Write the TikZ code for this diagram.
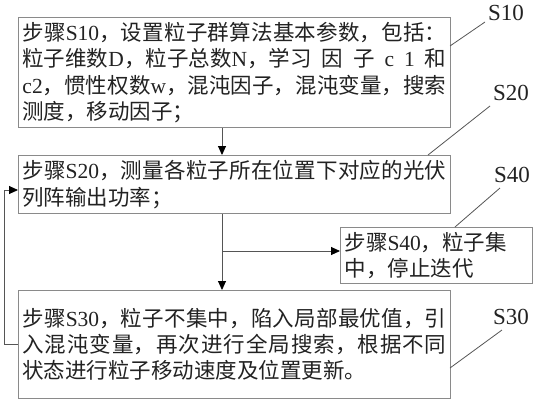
\documentclass[tikz,border=0pt]{standalone}
\usepackage{fontspec}
\setmainfont{Noto Sans CJK SC}
\newfontfamily\lat{Liberation Serif}
\usetikzlibrary{arrows.meta}
\XeTeXlinebreaklocale "zh"
\XeTeXlinebreakskip=0pt plus 3pt
\definecolor{boxgray}{HTML}{8A8A8A}
\definecolor{linegray}{HTML}{555555}
\definecolor{textblack}{HTML}{222222}
\tikzset{
  stepbox/.style={draw=boxgray, line width=1pt, inner xsep=4pt, inner ysep=0pt,
    text width=424pt, align=justify, anchor=north west,
    font=\fontsize{21.5pt}{26.3pt}\selectfont, text=textblack},
  smallbox/.style={stepbox, text width=184pt, align=left},
  arr/.style={draw=linegray, line width=0.9pt, -{Triangle[length=9pt,width=8pt,color=black]}},
  leader/.style={draw=linegray, line width=0.8pt},
  steplabel/.style={font=\lat\fontsize{23pt}{23pt}\selectfont, text=textblack, inner sep=0pt}
}
\begin{document}
\begin{tikzpicture}[x=1pt,y=-1pt]
\useasboundingbox (0,0) rectangle (536,400);
\node[stepbox, minimum height=110pt] (s10) at (18,17)
 {步骤{\lat S10}，设置粒子群算法基本参数，包括：\linebreak
  粒子维数{\lat D}，粒子总数{\lat N}，学习\hfill 因\hfill 子\hfill {\lat c}\hfill {\lat 1}\hfill 和\linebreak
  {\lat c2}，惯性权数{\lat w}，混沌因子，混沌变量，搜索\linebreak
  测度，移动因子；};
\node[stepbox, minimum height=58pt] (s20) at (18,155)
 {步骤{\lat S20}，测量各粒子所在位置下对应的光伏\linebreak
  列阵输出功率；};
\node[smallbox, minimum height=56pt] (s40) at (340,227)
 {步骤{\lat S40}，粒子集\\
  中，停止迭代};
\node[stepbox, minimum height=108pt] (s30) at (18,290)
 {步骤{\lat S30}，粒子不集中，陷入局部最优值，引\linebreak
  入混沌变量，再次进行全局搜索，根据不同\linebreak
  状态进行粒子移动速度及位置更新。};
% labels
\node[steplabel] (l10) at (506,13) {S10};
\node[steplabel] (l20) at (511,93) {S20};
\node[steplabel] (l40) at (512,175) {S40};
\node[steplabel] (l30) at (511,317) {S30};
\coordinate (t10) at (450,46);
\coordinate (e10) at (485,22);
\coordinate (t20) at (428,155);
\coordinate (e20) at (490,106);
\coordinate (t40) at (455,227);
\coordinate (e40) at (500,188);
\coordinate (t30) at (450,368);
\coordinate (e30) at (502,330);
\draw[leader] (t10) -- (e10);
\draw[leader] (t20) -- (e20);
\draw[leader] (t40) -- (e40);
\draw[leader] (t30) -- (e30);
% connectors
\coordinate (vx) at (222,0);
\coordinate (j) at (222,251);
\coordinate (lx) at (4,0);
\coordinate (in20) at (18,190);
\draw[arr] (s10.south -| vx) -- (s20.north -| vx);
\draw[arr] (s20.south -| vx) -- (s30.north -| vx);
\draw[arr] (j) -- (j -| s40.west);
\draw[arr] (s30.west) -- (s30.west -| lx) -- (in20 -| lx) -- (in20);
\end{tikzpicture}
\end{document}
